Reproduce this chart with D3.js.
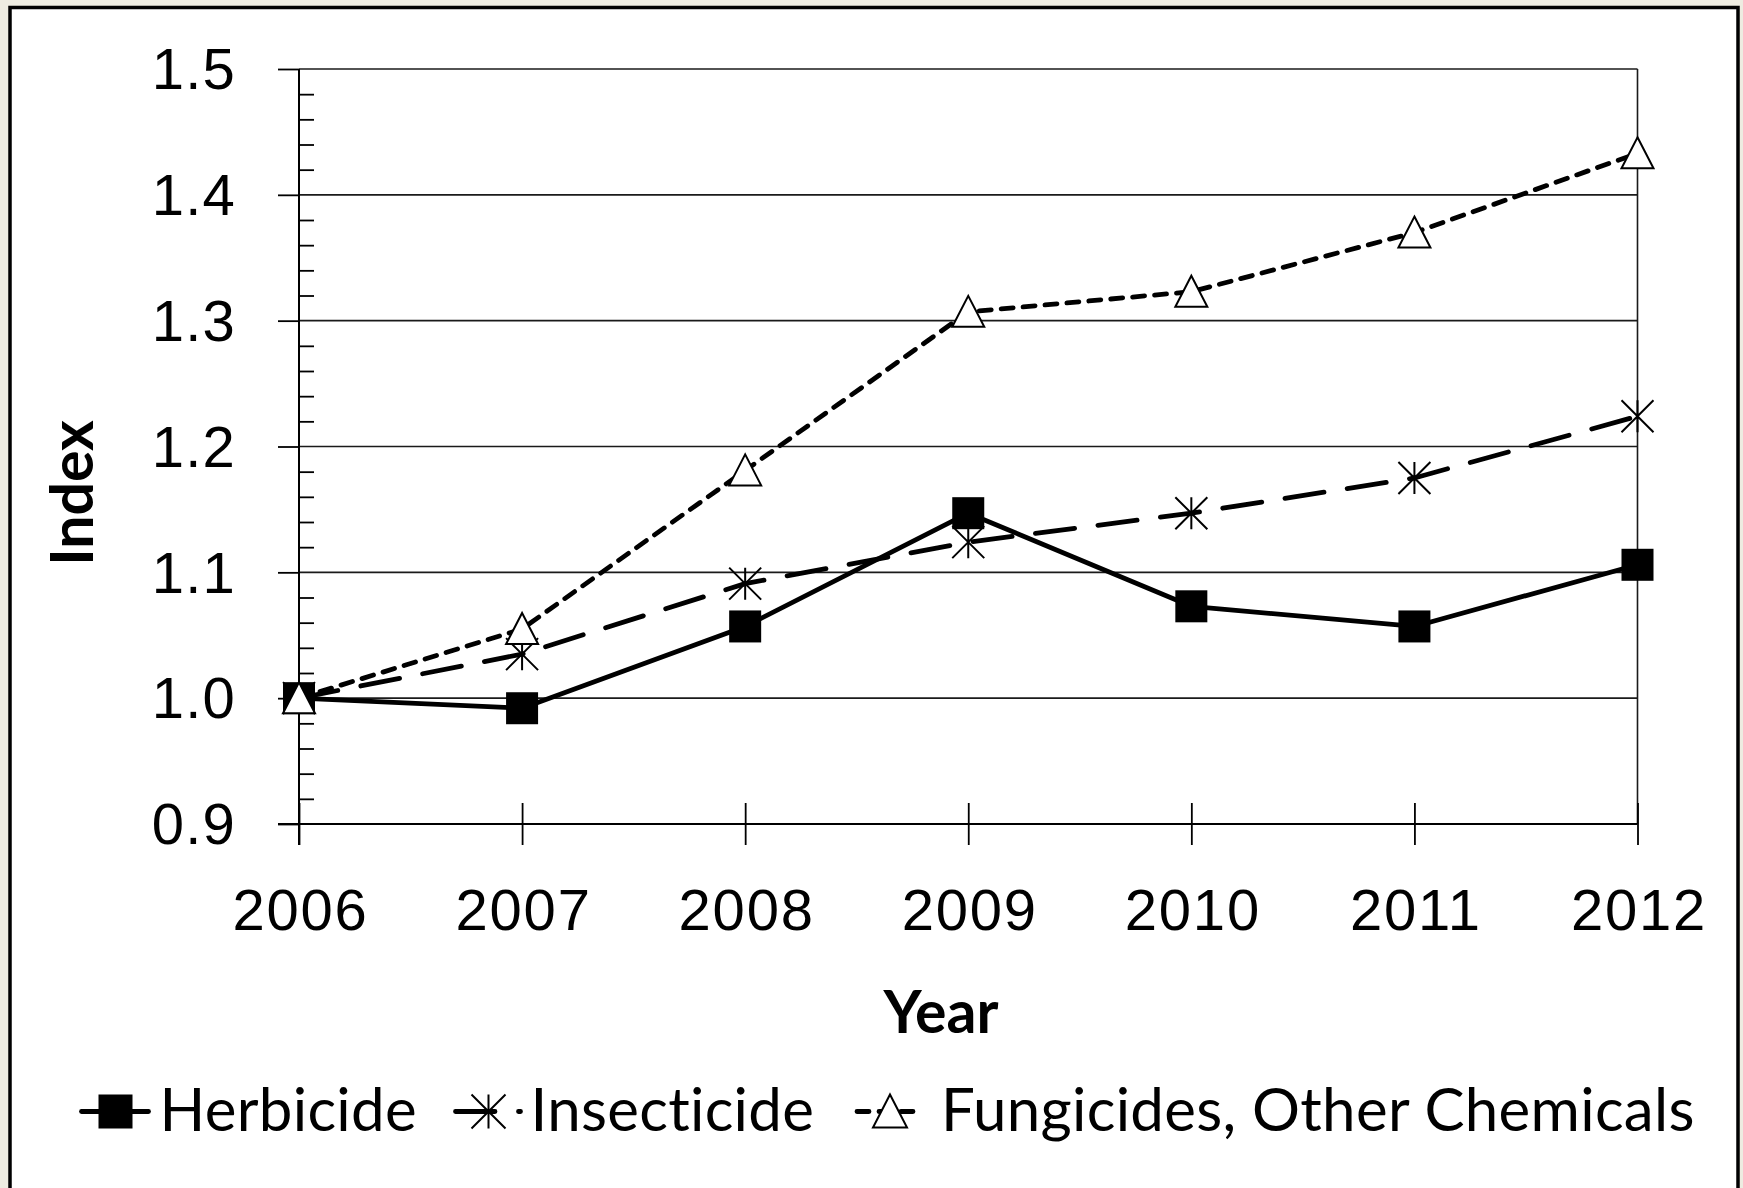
<!DOCTYPE html>
<html>
<head>
<meta charset="utf-8">
<script src="https://cdn.jsdelivr.net/npm/d3@7"></script>
<style>
  body { margin: 0; background: #eeece1; }
  svg { display: block; font-family: Lato, "Open Sans", sans-serif; }
</style>
</head>
<body>
<svg id="chart" width="1743" height="1188"></svg>
<script>
const years = [2006, 2007, 2008, 2009, 2010, 2011, 2012];
const herbicide = [1.000, 0.992, 1.057, 1.147, 1.073, 1.057, 1.106];
const insecticide = [1.000, 1.035, 1.091, 1.124, 1.147, 1.175, 1.224];
const fungicides = [1.000, 1.055, 1.181, 1.307, 1.323, 1.370, 1.433];
const yTicks = [0.9, 1.0, 1.1, 1.2, 1.3, 1.4, 1.5];
const seriesNames = ["Herbicide", "Insecticide", "Fungicides, Other Chemicals"];

const plotLeft = 299, plotRight = 1637.5, plotTop = 69, plotBottom = 824;

const svg = d3.select("#chart");

// frame
svg.append("rect")
  .attr("x", 10).attr("y", 7.5)
  .attr("width", 1728).attr("height", 1200)
  .attr("fill", "#fff").attr("stroke", "#000").attr("stroke-width", 3.5);

const x = d3.scaleLinear().domain([2006, 2012]).range([plotLeft, plotRight]);
const y = d3.scaleLinear().domain([0.9, 1.5]).range([plotBottom, plotTop]);

// gridlines
svg.append("g")
  .selectAll("line")
  .data(yTicks.slice(1))
  .join("line")
  .attr("x1", plotLeft).attr("x2", plotRight)
  .attr("y1", d => y(d)).attr("y2", d => y(d))
  .attr("stroke", "#1a1a1a").attr("stroke-width", 1.6);

// right edge of plot
svg.append("line")
  .attr("x1", plotRight).attr("x2", plotRight)
  .attr("y1", plotTop).attr("y2", plotBottom)
  .attr("stroke", "#1a1a1a").attr("stroke-width", 1.6);

// y axis, major ticks out, minor ticks in
const minor = d3.range(0.92, 1.5, 0.02).filter(d => Math.abs(d * 10 - Math.round(d * 10)) > 0.01);
const yAxis = d3.axisLeft(y)
  .tickValues(yTicks)
  .tickSize(21)
  .tickPadding(42)
  .tickFormat(d3.format(".1f"));
const gy = svg.append("g")
  .attr("transform", `translate(${plotLeft},0)`)
  .call(yAxis);
gy.select(".domain").remove();
gy.selectAll(".tick line").attr("stroke", "#000").attr("stroke-width", 1.8);
gy.selectAll(".tick text")
  .attr("dy", "0.34em")
  .attr("font-size", 58)
  .attr("letter-spacing", 1.2)
  .attr("fill", "#000");

svg.append("g")
  .attr("transform", `translate(${plotLeft},0)`)
  .call(d3.axisRight(y).tickValues(minor).tickSize(15).tickFormat(""))
  .call(g => g.select(".domain").remove())
  .selectAll(".tick line").attr("stroke", "#000").attr("stroke-width", 1.8);

// x axis, ticks cross the line
const gx = svg.append("g")
  .attr("transform", `translate(0,${plotBottom})`)
  .call(d3.axisBottom(x).tickValues(years).tickSize(21).tickFormat(d3.format("d")));
gx.select(".domain").remove();
gx.selectAll(".tick line")
  .attr("y1", -21).attr("y2", 21)
  .attr("stroke", "#000").attr("stroke-width", 1.8);
gx.selectAll(".tick text")
  .attr("x", 1)
  .attr("y", 106).attr("dy", 0)
  .attr("font-size", 58)
  .attr("letter-spacing", 1.8)
  .attr("fill", "#000");

// axis lines
svg.append("line")
  .attr("x1", plotLeft - 21).attr("x2", plotRight)
  .attr("y1", plotBottom).attr("y2", plotBottom)
  .attr("stroke", "#000").attr("stroke-width", 2);
svg.append("line")
  .attr("x1", plotLeft).attr("x2", plotLeft)
  .attr("y1", plotTop).attr("y2", plotBottom + 21)
  .attr("stroke", "#000").attr("stroke-width", 2);

// axis titles
svg.append("text")
  .attr("x", 941).attr("y", 1033)
  .attr("text-anchor", "middle")
  .attr("font-size", 59).attr("font-weight", "bold")
  .text("Year");
svg.append("text")
  .attr("transform", "translate(93,493) rotate(-90)")
  .attr("text-anchor", "middle")
  .attr("font-size", 59).attr("font-weight", "bold")
  .text("Index");

// markers
function drawMarker(g, type, ms) {
  const h = ms / 2;
  if (type === "square") {
    g.append("rect").attr("x", -h).attr("y", -h).attr("width", ms).attr("height", ms).attr("fill", "#000");
  } else if (type === "star") {
    g.append("path")
      .attr("d", `M${-h},${-h}L${h},${h}M${-h},${h}L${h},${-h}M0,${-h}L0,${h}`)
      .attr("stroke", "#000").attr("stroke-width", 2).attr("fill", "none");
  } else {
    g.append("path")
      .attr("d", `M0,${-h}L${h},${h - 1}L${-h},${h - 1}Z`)
      .attr("stroke", "#000").attr("stroke-width", 2).attr("fill", "#fff");
  }
}

const series = [
  { name: seriesNames[0], values: herbicide, dash: null, marker: "square" },
  { name: seriesNames[1], values: insecticide, dash: "39.5,23.5", marker: "star" },
  { name: seriesNames[2], values: fungicides, dash: "12,10", marker: "triangle" }
];

const line = d3.line().x((d, i) => x(years[i])).y(d => y(d));

series.forEach(s => {
  svg.append("path")
    .attr("d", line(s.values))
    .attr("fill", "none")
    .attr("stroke", "#000")
    .attr("stroke-width", 4.8)
    .attr("stroke-linecap", "round")
    .attr("stroke-linejoin", "round")
    .attr("stroke-dasharray", s.dash);
});

series.forEach(s => {
  svg.append("g")
    .selectAll("g")
    .data(s.values)
    .join("g")
    .attr("transform", (d, i) => `translate(${x(years[i])},${y(d)})`)
    .each(function () { drawMarker(d3.select(this), s.marker, 32); });
});

// legend
const legendX = [81.5, 455.5, 857];
const legendLen = [67, 65, 60];
const legendMarker = [34, 33, 33];
const legendText = [78, 75, 84];
const legendY = 1111.5;
series.forEach((s, i) => {
  const g = svg.append("g").attr("transform", `translate(${legendX[i]},${legendY})`);
  g.append("line")
    .attr("x1", 0).attr("x2", legendLen[i])
    .attr("stroke", "#000").attr("stroke-width", 4.8)
    .attr("stroke-linecap", "round")
    .attr("stroke-dasharray", s.dash);
  drawMarker(g.append("g").attr("transform", `translate(${legendMarker[i]},0)`), s.marker, 34);
  g.append("text")
    .attr("x", legendText[i]).attr("y", 19.5)
    .attr("font-size", 60)
    .attr("letter-spacing", 0.3)
    .text(s.name);
});
</script>
</body>
</html>
